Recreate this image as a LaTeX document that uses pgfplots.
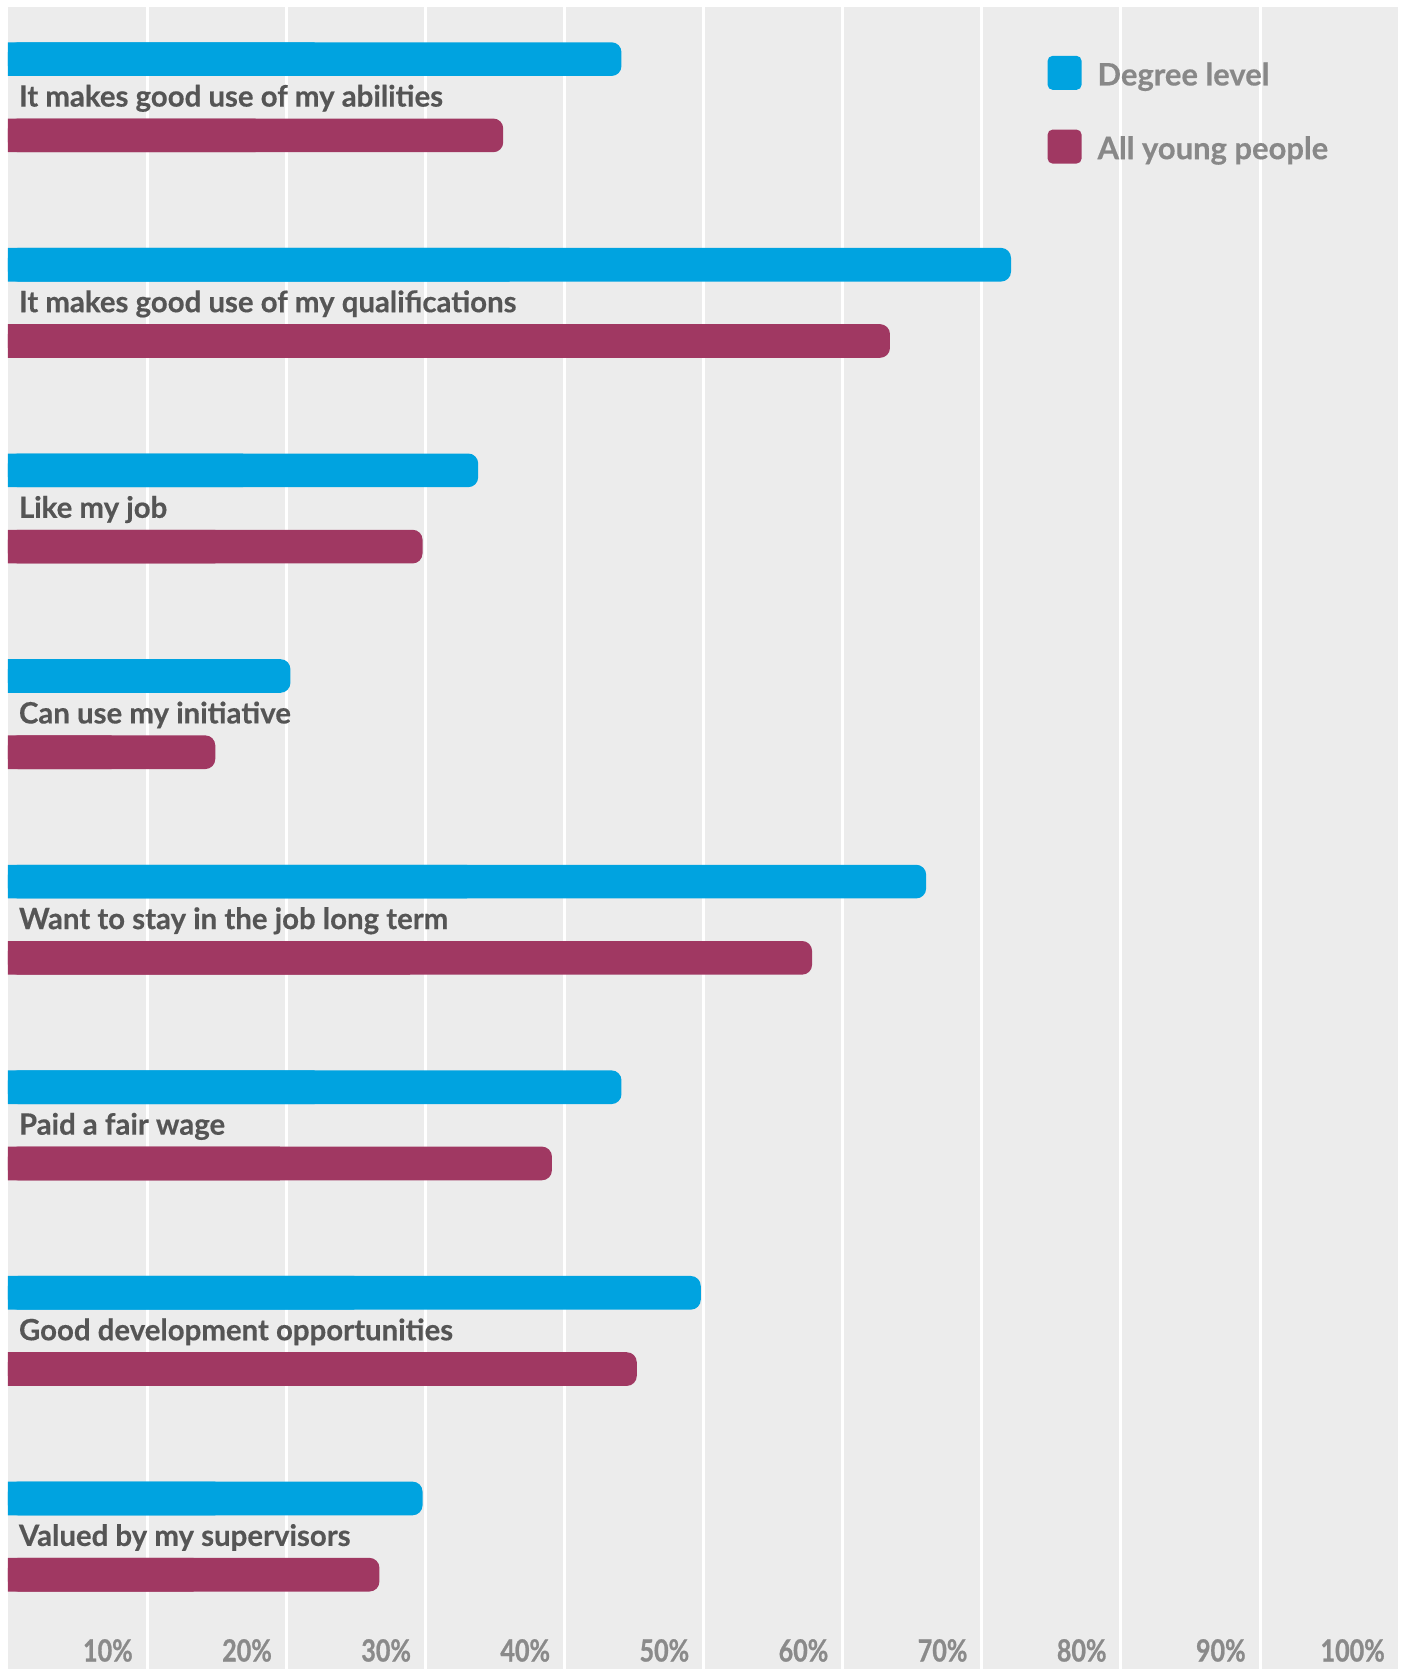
\documentclass[border=0pt]{standalone}
\usepackage{fontspec}
\setmainfont{Lato}[BoldFeatures={FakeBold=0.4}]
\newfontfamily\condfont{Lato}[FakeStretch=0.82, BoldFeatures={FakeBold=0.8}]
\usepackage{pgfplots}
\usepackage{pgfplotstable}
\pgfplotsset{compat=1.18}
\definecolor{degc}{HTML}{00A3E0}
\definecolor{allc}{HTML}{A03862}
\definecolor{bgc}{HTML}{ECECEC}
\definecolor{labc}{HTML}{555555}
\definecolor{legc}{HTML}{888888}
\definecolor{tickc}{HTML}{8A8A8A}

\pgfplotstableread{
k yb yp deg all
0 0.1854 -0.1854 44.1 35.6
1 -0.8146 -1.1854 72.1 63.4
2 -1.8146 -2.1854 33.8 29.8
3 -2.8146 -3.1854 20.3 14.9
4 -3.8146 -4.1854 66.0 57.8
5 -4.8146 -5.1854 44.1 39.1
6 -5.8146 -6.1854 49.8 45.2
7 -6.8146 -7.1854 29.8 26.7
}\data

\begin{document}
\begin{tikzpicture}
\begin{axis}[
  scale only axis,
  width=696.2pt, height=831.65pt,
  xmin=0, xmax=100,
  ymin=-7.6416, ymax=0.4405,
  axis background/.style={fill=bgc},
  axis line style={draw=none},
  tick style={draw=none},
  major tick length=0pt,
  xtick={10,20,...,100},
  xticklabels={10\%,20\%,30\%,40\%,50\%,60\%,70\%,80\%,90\%,100\%},
  xticklabel style={anchor=base east, inner sep=0pt, xshift=-7pt, yshift=3.5pt,
    font=\condfont\bfseries\fontsize{15.3}{18}\selectfont, text=tickc},
  ytick=\empty,
  xmajorgrids,
  grid style={white, line width=1.5pt},
  bar width=0.1638,
  legend cell align=left,
  legend image code/.code={\fill[#1, rounded corners=2.5pt] (0pt,-7.2pt) rectangle (17pt,9.8pt);},
  legend style={at={(0.7473,0.9704)}, anchor=north west, draw=none, fill=none,
    inner sep=0pt, outer sep=0pt, row sep=19.9pt,
    font=\bfseries\fontsize{15.5}{18}\selectfont, text=legc,
    nodes={inner sep=0pt, outer sep=0pt}},
]
\addplot[xbar, bar shift=0pt, fill=degc, draw=none, forget plot] table[x expr=\thisrow{deg}/2, y=yb] {\data};
\addplot[xbar, bar shift=0pt, fill=allc, draw=none, forget plot] table[x expr=\thisrow{all}/2, y=yp] {\data};
\addplot[xbar, bar shift=0pt, fill=degc, draw=none, rounded corners=5pt] table[x=deg, y=yb] {\data};
\addlegendentry{\hspace{8pt}Degree level}
\addplot[xbar, bar shift=0pt, fill=allc, draw=none, rounded corners=5pt] table[x=all, y=yp] {\data};
\addlegendentry{\hspace{8pt}All young people}

\begin{scope}[every node/.style={anchor=base west, inner sep=0pt, text=labc, font=\bfseries\fontsize{14.7}{17}\selectfont}]
\node at (axis cs:0.76,-0.0454) {It makes good use of my abilities};
\node at (axis cs:0.76,-1.0454) {It makes good use of my qualifications};
\node at (axis cs:0.76,-2.0454) {Like my job};
\node at (axis cs:0.76,-3.0454) {Can use my initiative};
\node at (axis cs:0.76,-4.0454) {Want to stay in the job long term};
\node at (axis cs:0.76,-5.0454) {Paid a fair wage};
\node at (axis cs:0.76,-6.0454) {Good development opportunities};
\node at (axis cs:0.76,-7.0454) {Valued by my supervisors};
\end{scope}
\end{axis}
\path ([xshift=-4pt]current axis.south west) rectangle ([xshift=4.8pt,yshift=3.35pt]current axis.north east);
\end{tikzpicture}
\end{document}
